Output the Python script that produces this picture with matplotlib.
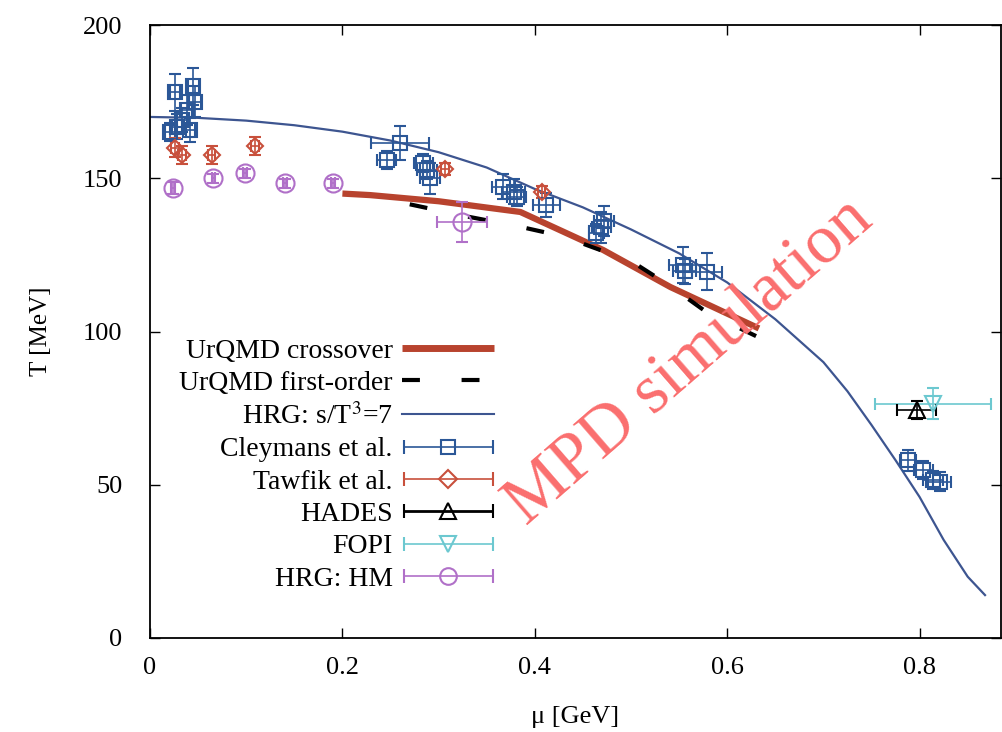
import numpy as np
import matplotlib
matplotlib.use("Agg")
import matplotlib.pyplot as plt
from matplotlib.lines import Line2D
from matplotlib.container import ErrorbarContainer
from matplotlib.legend_handler import HandlerErrorbar

plt.rcParams['font.family'] = ['Liberation Serif', 'DejaVu Serif']
plt.rcParams['mathtext.fontset'] = 'stix'

# HRG: s/T^3 = 7 curve
hrg_mu = [0, 0.05, 0.1, 0.15, 0.2, 0.25, 0.3, 0.35, 0.4, 0.45, 0.5, 0.55, 0.6,
          0.65, 0.7, 0.725, 0.75, 0.775, 0.8, 0.825, 0.85, 0.868]
hrg_T = [170, 169.7, 168.8, 167.3, 165.2, 162.3, 158.5, 153.5, 146.5, 140.5, 133.3,
         125.5, 116, 104, 90, 80.5, 69.5, 58, 46, 32, 20, 14]

# UrQMD lines
cross_mu = [0.2, 0.229, 0.3, 0.385, 0.471, 0.541, 0.633]
cross_T = [145, 144.5, 142.5, 139, 126.6, 114.5, 101]
first_mu = [0.27, 0.33, 0.38, 0.43, 0.46, 0.5, 0.54, 0.58, 0.63]
first_T = [141.5, 137.5, 134.5, 131, 127.5, 123, 115, 106, 98.5]

# Cleymans et al.
cl_mu = [0.021, 0.026, 0.028, 0.033, 0.038, 0.042, 0.045, 0.047, 0.246, 0.26, 0.284,
         0.288, 0.291, 0.367, 0.378, 0.381, 0.412, 0.464, 0.469, 0.472, 0.554, 0.556,
         0.579, 0.788, 0.804, 0.814, 0.821]
cl_T = [165, 178, 166.8, 169, 172.3, 165.7, 180, 175, 156, 161.5, 155, 152.7, 150,
        147.3, 145.6, 144, 141.3, 132, 134, 136, 121.7, 119.6, 119.5, 58, 54.8, 51.5, 51]
cl_dT = [3, 6, 4, 4, 5, 4, 6, 5, 3, 5.5, 3, 3, 5, 4, 4, 3, 4, 3, 5, 5, 6, 4, 6,
         3.5, 3, 3, 3]
cl_dmu = [0.005, 0.005, 0.005, 0.005, 0.006, 0.005, 0.006, 0.006, 0.01, 0.03, 0.01,
          0.01, 0.01, 0.012, 0.012, 0.01, 0.014, 0.008, 0.01, 0.01, 0.014, 0.012,
          0.016, 0.008, 0.01, 0.01, 0.012]

# Tawfik et al.
tw_mu = [0.026, 0.033, 0.064, 0.109, 0.307, 0.407]
tw_T = [160, 157.5, 157.5, 160.5, 153, 145.5]
tw_dT = [3, 3, 3, 3, 2, 2]
tw_dmu = [0.004, 0.004, 0.004, 0.004, 0.004, 0.004]

# HADES / FOPI
ha_mu, ha_T, ha_dT, ha_dmu = [0.797], [74.4], [3], [0.02]
fo_mu, fo_T, fo_dT, fo_dmu = [0.814], [76.5], [5], [0.06]

# HRG: HM
hm_mu = [0.024, 0.066, 0.099, 0.14, 0.19, 0.324]
hm_T = [146.7, 150, 151.6, 148.3, 148.3, 135.8]
hm_dT = [2, 1.5, 1.5, 1.5, 1.5, 6.5]
hm_dmu = [0.002, 0.002, 0.002, 0.002, 0.002, 0.026]

c_hrg = '#3d5590'
c_cl = '#2b5797'
c_tw = '#c8503c'
c_cross = '#b8432e'
c_hm = '#b070c8'
c_fo = '#6cc8d0'

fig = plt.figure(figsize=(10.02, 7.32), dpi=100)
ax = fig.add_axes([150 / 1002, 94 / 732, 851 / 1002, 613 / 732])

ax.plot(hrg_mu, hrg_T, color=c_hrg, lw=1.6, zorder=2)
ax.plot(cross_mu, cross_T, color=c_cross, lw=4.5, solid_capstyle='butt', zorder=3)
ax.plot(first_mu, first_T, color='black', lw=3, dashes=(4.3, 10), zorder=3)

eb = dict(ls='none', capsize=4, elinewidth=1.2, capthick=1.2, mfc='none', mew=1.5, zorder=4)
ax.errorbar(cl_mu, cl_T, yerr=cl_dT, xerr=cl_dmu, marker='s', ms=10, color=c_cl, **eb)
ax.errorbar(tw_mu, tw_T, yerr=tw_dT, xerr=tw_dmu, marker='D', ms=8.5, color=c_tw, **eb)
ax.errorbar(fo_mu, fo_T, yerr=fo_dT, xerr=fo_dmu, marker='v', ms=11, color=c_fo, **eb)
ax.errorbar(ha_mu, ha_T, yerr=ha_dT, xerr=ha_dmu, marker='^', ms=11, color='black', **eb)
ax.errorbar(hm_mu, hm_T, yerr=hm_dT, xerr=hm_dmu, marker='o', ms=13, color=c_hm, **eb)

# legend proxies: horizontal bar with caps, marker in the middle
def proxy(marker, color, ms, lw=1.2):
    return ax.errorbar([np.nan], [np.nan], xerr=[0], marker=marker, ms=ms, color=color,
                       ls='none', capsize=5, elinewidth=lw, capthick=lw, mfc='none', mew=1.5)

handles = [
    Line2D([], [], color=c_cross, lw=5, solid_capstyle='butt'),
    Line2D([], [], color='black', lw=3, dashes=(4.3, 10)),
    Line2D([], [], color=c_hrg, lw=1.5),
    proxy('s', c_cl, 10),
    proxy('D', c_tw, 9),
    proxy('^', 'black', 11, lw=2),
    proxy('v', c_fo, 11),
    proxy('o', c_hm, 12),
]
labels = ['UrQMD crossover', 'UrQMD first-order', 'HRG: s/T$^3$=7', 'Cleymans et al.',
          'Tawfik et al.', 'HADES', 'FOPI', 'HRG: HM']
ax.legend(handles, labels, loc='upper right', bbox_to_anchor=((494 - 150) / 851, 0.489),
          frameon=False, markerfirst=False, fontsize=20, handlelength=3.3,
          handletextpad=0.35, labelspacing=0.25, borderaxespad=0, borderpad=0,
          numpoints=1, handler_map={ErrorbarContainer: HandlerErrorbar(xerr_size=1.6)})

ax.text(0.561, 90, 'MPD simulation', color='#fa6e6e', fontsize=50, rotation=41,
        rotation_mode='anchor', ha='center', va='center', zorder=6)

ax.set_xlim(0, 851 / 962)
ax.set_ylim(0, 200)
ax.set_xticks([0, 0.2, 0.4, 0.6, 0.8])
ax.set_xticklabels(['0', '0.2', '0.4', '0.6', '0.8'])
ax.set_yticks([0, 50, 100, 150, 200])
ax.tick_params(direction='in', top=True, right=True, length=7, width=1, labelsize=19)
ax.tick_params(axis='x', pad=14)
ax.tick_params(axis='y', pad=20)
for s in ax.spines.values():
    s.set_linewidth(1.3)
ax.set_xlabel('μ [GeV]', fontsize=19, labelpad=19)
ax.set_ylabel('T [MeV]', fontsize=18, labelpad=22)

fig.savefig('out.png', dpi=100)
